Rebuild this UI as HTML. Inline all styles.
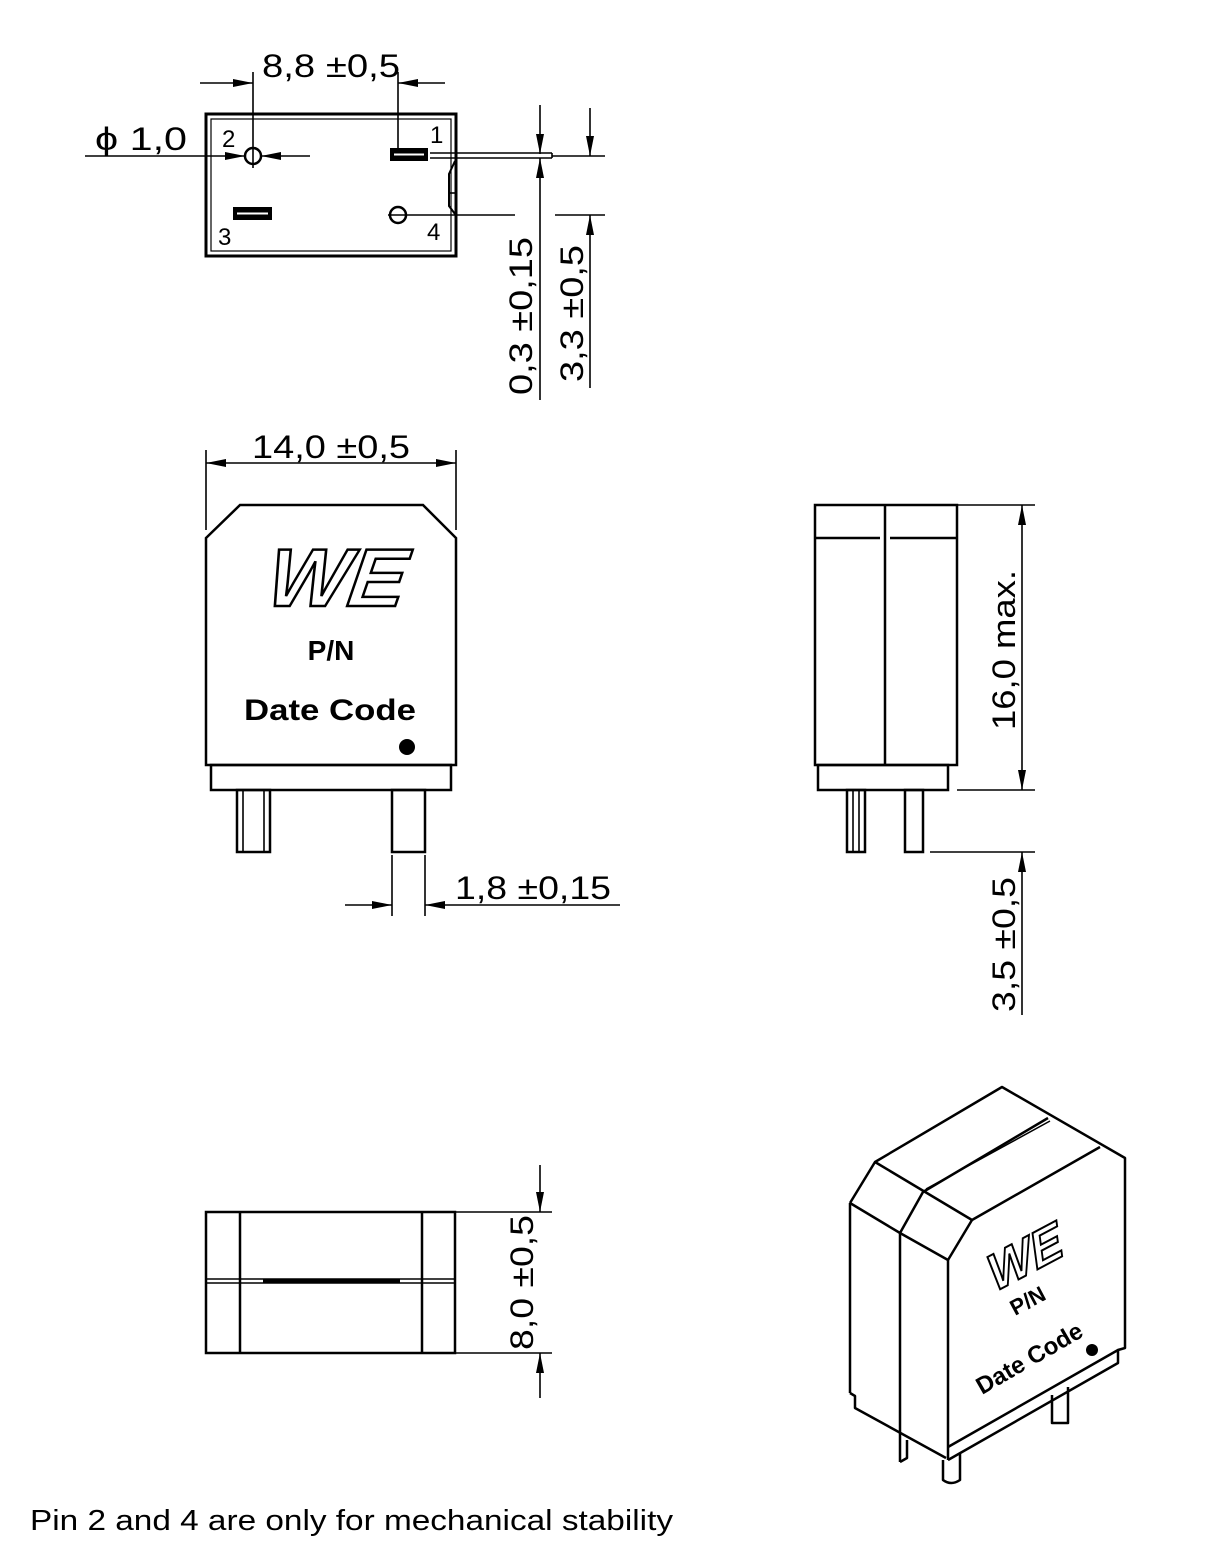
<!DOCTYPE html>
<html><head><meta charset="utf-8"><style>
html,body{margin:0;padding:0;background:#fff;width:1229px;height:1558px;overflow:hidden}
svg{display:block}
.d{font-family:"Liberation Sans","DejaVu Sans",sans-serif;font-size:32px;fill:#000}
.b{font-family:"Liberation Sans",sans-serif;font-weight:bold;fill:#000}
</style></head><body>
<svg width="1229" height="1558" viewBox="0 0 1229 1558" xmlns="http://www.w3.org/2000/svg">
<defs>
<marker id="ar" viewBox="0 0 20 8" refX="20" refY="4" markerWidth="20" markerHeight="8" markerUnits="userSpaceOnUse" orient="auto"><path d="M0,0 L20,4 L0,8 z" fill="#000"/></marker>
</defs>
<g stroke="#000" fill="none" stroke-width="1.6">
<!-- TOP VIEW -->
<rect x="206" y="114" width="250" height="142" stroke-width="3"/>
<rect x="211" y="119" width="240" height="132" stroke-width="1.2"/>
<path d="M455,161 L449,174 L449,206 L455,214" stroke-width="2"/>
<line x1="449" y1="193" x2="456" y2="193"/>
<rect x="390" y="148" width="38" height="13" fill="#000" stroke="none"/>
<line x1="394" y1="154.5" x2="424" y2="154.5" stroke="#fff" stroke-width="2"/>
<rect x="233" y="207" width="39" height="13" fill="#000" stroke="none"/>
<line x1="237" y1="213.5" x2="268" y2="213.5" stroke="#fff" stroke-width="2"/>
<circle cx="253" cy="156" r="8" stroke-width="2.5"/>
<circle cx="398" cy="215" r="8" stroke-width="2.5"/>
<line x1="253" y1="72" x2="253" y2="168"/>
<line x1="398" y1="72" x2="398" y2="148"/>
<line x1="200" y1="83" x2="253" y2="83" marker-end="url(#ar)"/>
<line x1="445" y1="83" x2="398" y2="83" marker-end="url(#ar)"/>
<line x1="85" y1="156" x2="245" y2="156" marker-end="url(#ar)"/>
<line x1="310" y1="156" x2="261" y2="156" marker-end="url(#ar)"/>
<line x1="388" y1="215" x2="515" y2="215"/>
<line x1="555" y1="215" x2="605" y2="215"/>
<line x1="430" y1="153" x2="552" y2="153"/>
<line x1="430" y1="158" x2="552" y2="158"/>
<line x1="552" y1="153" x2="552" y2="158"/>
<line x1="552" y1="156" x2="605" y2="156"/>
<line x1="540" y1="105" x2="540" y2="154" marker-end="url(#ar)"/>
<line x1="540" y1="400" x2="540" y2="158" marker-end="url(#ar)"/>
<line x1="590" y1="108" x2="590" y2="156" marker-end="url(#ar)"/>
<line x1="590" y1="388" x2="590" y2="215" marker-end="url(#ar)"/>
<!-- FRONT VIEW -->
<path d="M206,538 L240,505 L423,505 L456,538 L456,765 L206,765 Z" stroke-width="2.5"/>
<rect x="211" y="765" width="240" height="25" stroke-width="2.5"/>
<rect x="237" y="790" width="33" height="62" stroke-width="2.5"/>
<line x1="243" y1="790" x2="243" y2="852"/><line x1="264" y1="790" x2="264" y2="852"/>
<rect x="392" y="790" width="33" height="62" stroke-width="2.5"/>
<line x1="206" y1="450" x2="206" y2="530"/>
<line x1="456" y1="450" x2="456" y2="530"/>
<line x1="330" y1="463" x2="206" y2="463" marker-end="url(#ar)"/>
<line x1="330" y1="463" x2="456" y2="463" marker-end="url(#ar)"/>
<line x1="392" y1="855" x2="392" y2="916"/>
<line x1="425" y1="855" x2="425" y2="916"/>
<line x1="345" y1="905" x2="392" y2="905" marker-end="url(#ar)"/>
<line x1="620" y1="905" x2="425" y2="905" marker-end="url(#ar)"/>
<!-- SIDE VIEW -->
<rect x="815" y="505" width="142" height="260" stroke-width="2.5"/>
<line x1="885" y1="505" x2="885" y2="765" stroke-width="2.5"/>
<line x1="815" y1="538" x2="880" y2="538" stroke-width="2.5"/>
<line x1="890" y1="538" x2="957" y2="538" stroke-width="2.5"/>
<rect x="818" y="765" width="130" height="25" stroke-width="2.5"/>
<rect x="847" y="790" width="18" height="62" stroke-width="2.5"/>
<line x1="853" y1="790" x2="853" y2="852"/><line x1="859" y1="790" x2="859" y2="852"/>
<rect x="905" y="790" width="18" height="62" stroke-width="2.5"/>
<line x1="957" y1="505" x2="1035" y2="505"/>
<line x1="957" y1="790" x2="1035" y2="790"/>
<line x1="930" y1="852" x2="1035" y2="852"/>
<line x1="1022" y1="650" x2="1022" y2="505" marker-end="url(#ar)"/>
<line x1="1022" y1="650" x2="1022" y2="790" marker-end="url(#ar)"/>
<line x1="1022" y1="1015" x2="1022" y2="852" marker-end="url(#ar)"/>
<!-- BOTTOM VIEW -->
<rect x="206" y="1212" width="249" height="141" stroke-width="2.5"/>
<line x1="240" y1="1212" x2="240" y2="1353" stroke-width="2.5"/>
<line x1="422" y1="1212" x2="422" y2="1353" stroke-width="2.5"/>
<line x1="206" y1="1279" x2="455" y2="1279"/>
<line x1="206" y1="1283" x2="455" y2="1283"/>
<line x1="263" y1="1281" x2="400" y2="1281" stroke-width="3"/>
<line x1="455" y1="1212" x2="552" y2="1212"/>
<line x1="455" y1="1353" x2="552" y2="1353"/>
<line x1="540" y1="1165" x2="540" y2="1212" marker-end="url(#ar)"/>
<line x1="540" y1="1398" x2="540" y2="1353" marker-end="url(#ar)"/>
<!-- ISO -->
<g stroke-width="2.5" stroke-linejoin="round">
<path d="M850,1203 L875,1162 L1002,1087 L1125,1158 L1125,1348 L1118,1350"/>
<path d="M875,1162 L972,1220 L1100,1147"/>
<path d="M850,1203 L900,1233 L948,1260 L972,1220"/>
<path d="M900,1233 L923,1192 L1048,1118"/>
<line x1="926" y1="1189" x2="1050" y2="1121" stroke-width="1.5"/>
<line x1="850" y1="1203" x2="850" y2="1393"/>
<path d="M850,1393 L855,1396 L855,1408 L946,1458"/>
<line x1="900" y1="1233" x2="900" y2="1462"/>
<line x1="948" y1="1260" x2="948" y2="1460"/>
<path d="M948,1447 L1118,1350 L1118,1363 L948,1460"/>
<path d="M1052,1395 L1052,1423 L1068,1423 L1068,1387"/>
<path d="M907,1440 L907,1458 L900,1462"/>
<path d="M943,1460 L943,1480 Q951,1486 960,1480 L960,1454"/>
</g>
</g>
<!-- TEXT -->
<text class="d" x="262" y="77" textLength="138" lengthAdjust="spacingAndGlyphs">8,8 ±0,5</text>
<text class="d" x="95" y="150" textLength="92" lengthAdjust="spacingAndGlyphs">ϕ 1,0</text>
<text class="d" x="222" y="147" style="font-size:24px">2</text>
<text class="d" x="430" y="143" style="font-size:24px">1</text>
<text class="d" x="218" y="245" style="font-size:24px">3</text>
<text class="d" x="427" y="240" style="font-size:24px">4</text>
<text class="d" transform="translate(532,395) rotate(-90)" textLength="158" lengthAdjust="spacingAndGlyphs">0,3 ±0,15</text>
<text class="d" transform="translate(583,382) rotate(-90)" textLength="137" lengthAdjust="spacingAndGlyphs">3,3 ±0,5</text>
<text class="d" x="252" y="458" textLength="158" lengthAdjust="spacingAndGlyphs">14,0 ±0,5</text>
<text class="d" x="455" y="899" textLength="156" lengthAdjust="spacingAndGlyphs">1,8 ±0,15</text>
<text class="d" transform="translate(1015,730) rotate(-90)" textLength="160" lengthAdjust="spacingAndGlyphs">16,0 max.</text>
<text class="d" transform="translate(1015,1012) rotate(-90)" textLength="135" lengthAdjust="spacingAndGlyphs">3,5 ±0,5</text>
<text class="d" transform="translate(533,1350) rotate(-90)" textLength="135" lengthAdjust="spacingAndGlyphs">8,0 ±0,5</text>
<text x="268" y="606" font-family="Liberation Sans,sans-serif" font-weight="bold" font-style="italic" font-size="82" fill="#fff" stroke="#000" stroke-width="2.5" textLength="138" lengthAdjust="spacingAndGlyphs" transform="skewX(-8) translate(82,0)">WE</text>
<text class="b" x="331" y="660" font-size="28" text-anchor="middle">P/N</text>
<text class="b" x="330" y="720" font-size="30" text-anchor="middle" textLength="172" lengthAdjust="spacingAndGlyphs">Date Code</text>
<circle cx="407" cy="747" r="8" fill="#000"/>
<text x="0" y="0" font-family="Liberation Sans,sans-serif" font-weight="bold" font-style="italic" font-size="50" fill="#fff" stroke="#000" stroke-width="2" transform="translate(995,1292) rotate(-28) skewX(-10)">WE</text>
<text class="b" font-size="22" transform="translate(1015,1316) rotate(-28)">P/N</text>
<text class="b" font-size="24" transform="translate(982,1395) rotate(-30)">Date Code</text>
<circle cx="1092" cy="1350" r="6" fill="#000"/>
<text x="30" y="1530" font-family="Liberation Sans,sans-serif" font-size="29" fill="#000" textLength="643" lengthAdjust="spacingAndGlyphs">Pin 2 and 4 are only for mechanical stability</text>
</svg>
</body></html>
